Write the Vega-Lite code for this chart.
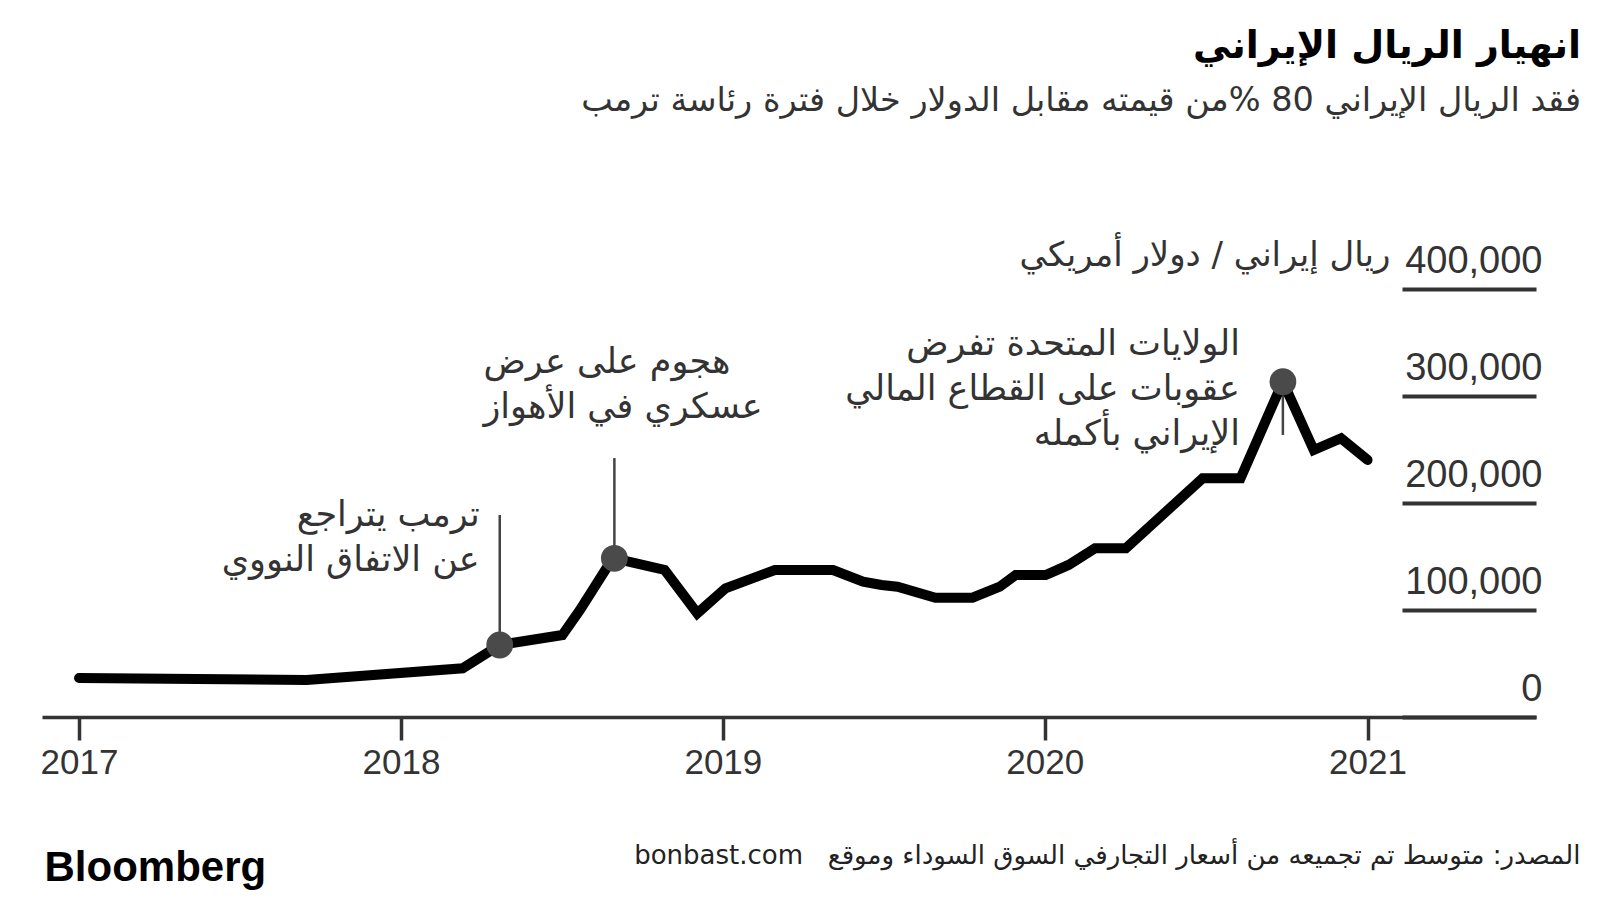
{
  "$schema": "https://vega.github.io/schema/vega-lite/v6.json",
  "width": 1494,
  "height": 428,
  "autosize": {"type": "none"},
  "padding": {"left": 42, "top": 289, "right": 64, "bottom": 183},
  "background": "white",
  "config": {"view": {"stroke": null}, "font": "Liberation Sans"},
  "title": {
    "text": "انهيار الريال الإيراني",
    "subtitle": "فقد الريال الإيراني 80 %من قيمته مقابل الدولار خلال فترة رئاسة ترمب",
    "anchor": "end",
    "frame": "group",
    "orient": "top",
    "dx": 45,
    "offset": 121,
    "font": "DejaVu Sans",
    "fontSize": 38,
    "fontWeight": "bold",
    "color": "#000000",
    "subtitleFont": "DejaVu Sans",
    "subtitleFontSize": 33.5,
    "subtitleColor": "#333333",
    "subtitlePadding": 19
  },
  "datasets": {
    "series": [
      {"date": "2017-01-01", "value": 36500},
      {"date": "2017-09-16", "value": 34500},
      {"date": "2018-03-12", "value": 45500},
      {"date": "2018-04-23", "value": 67300},
      {"date": "2018-07-03", "value": 76600},
      {"date": "2018-07-23", "value": 100000},
      {"date": "2018-08-22", "value": 139000},
      {"date": "2018-08-31", "value": 148300},
      {"date": "2018-10-27", "value": 137400},
      {"date": "2018-12-03", "value": 96900},
      {"date": "2019-01-04", "value": 120300},
      {"date": "2019-03-01", "value": 137400},
      {"date": "2019-05-06", "value": 137400},
      {"date": "2019-06-09", "value": 126500},
      {"date": "2019-06-30", "value": 123400},
      {"date": "2019-07-18", "value": 121800},
      {"date": "2019-08-30", "value": 111500},
      {"date": "2019-10-11", "value": 111500},
      {"date": "2019-11-11", "value": 121800},
      {"date": "2019-11-29", "value": 132700},
      {"date": "2020-01-02", "value": 132700},
      {"date": "2020-01-28", "value": 142100},
      {"date": "2020-02-27", "value": 157700},
      {"date": "2020-04-02", "value": 157700},
      {"date": "2020-06-28", "value": 223100},
      {"date": "2020-08-10", "value": 223100},
      {"date": "2020-09-27", "value": 313400},
      {"date": "2020-11-01", "value": 249500},
      {"date": "2020-12-02", "value": 260500},
      {"date": "2021-01-01", "value": 240200}
    ],
    "notes": [
      {"id": "a1", "date": "2018-04-23", "value": 67300, "leaderEnd": 188800, "label": "ترمب يتراجع\nعن الاتفاق النووي"},
      {"id": "a2", "date": "2018-08-31", "value": 148300, "leaderEnd": 242000, "label": "هجوم على عرض\nعسكري في الأهواز"},
      {"id": "a3", "date": "2020-09-27", "value": 313400, "leaderEnd": 263600, "label": "الولايات المتحدة تفرض\nعقوبات على القطاع المالي\nالإيراني بأكمله"}
    ]
  },
  "encoding": {
    "x": {
      "field": "date",
      "type": "temporal",
      "scale": {
        "type": "utc",
        "domain": [
          {"year": 2016, "month": 11, "date": 20, "utc": true},
          {"year": 2021, "month": 7, "date": 11, "utc": true}
        ]
      },
      "axis": {
        "values": [
          {"year": 2017, "utc": true},
          {"year": 2018, "utc": true},
          {"year": 2019, "utc": true},
          {"year": 2020, "utc": true},
          {"year": 2021, "utc": true}
        ],
        "format": "%Y",
        "grid": false,
        "domainColor": "#333333",
        "domainWidth": 3.5,
        "tickColor": "#333333",
        "tickWidth": 3.5,
        "tickSize": 23,
        "labelFont": "Liberation Sans",
        "labelFontSize": 35,
        "labelColor": "#333333",
        "labelPadding": 5,
        "labelFlush": false,
        "labelOverlap": false,
        "title": "bonbast.com\u00a0\u00a0\u00a0المصدر: متوسط تم تجميعه من أسعار التجارفي السوق السوداء وموقع",
        "titleX": 1538,
        "titleY": 138,
        "titleAlign": "right",
        "titleAnchor": "end",
        "titleBaseline": "middle",
        "titleFont": "DejaVu Sans",
        "titleFontSize": 26,
        "titleFontWeight": "normal",
        "titleColor": "#222222"
      }
    }
  },
  "layer": [
    {
      "data": {"name": "notes"},
      "mark": {"type": "rule", "color": "#444444", "strokeWidth": 2.5},
      "encoding": {
        "y": {"field": "value", "type": "quantitative", "scale": {"domain": [0, 400000], "nice": false}, "axis": null},
        "y2": {"field": "leaderEnd"}
      }
    },
    {
      "data": {"name": "series"},
      "mark": {"type": "line", "color": "#000000", "strokeWidth": 10, "strokeCap": "round", "strokeJoin": "miter"},
      "encoding": {
        "y": {
          "field": "value",
          "type": "quantitative",
          "scale": {"domain": [0, 400000], "nice": false},
          "axis": {
            "orient": "right",
            "values": [0, 100000, 200000, 300000, 400000],
            "format": ",d",
            "domain": false,
            "grid": false,
            "ticks": true,
            "tickSize": -134,
            "tickWidth": 4,
            "tickColor": "#333333",
            "labelAlign": "right",
            "labelBaseline": "alphabetic",
            "labelOffset": -17,
            "labelPadding": 140,
            "labelFont": "Liberation Sans",
            "labelFontSize": 38,
            "labelColor": "#333333",
            "labelOverlap": false,
            "labelBound": false,
            "labelFlush": false,
            "title": "ريال إيراني / دولار أمريكي",
            "titleAngle": 0,
            "titleX": -146,
            "titleY": -34,
            "titleAlign": "right",
            "titleBaseline": "middle",
            "titleFont": "DejaVu Sans",
            "titleFontSize": 34,
            "titleFontWeight": "normal",
            "titleColor": "#333333"
          }
        }
      }
    },
    {
      "data": {"name": "notes"},
      "mark": {"type": "circle", "size": 720, "color": "#4a4a4a", "opacity": 1},
      "encoding": {
        "y": {
          "field": "value",
          "type": "quantitative",
          "scale": {"domain": [0, 400000], "nice": false},
          "axis": {
            "orient": "left",
            "domain": false,
            "ticks": false,
            "labels": false,
            "grid": false,
            "title": "Bloomberg",
            "titleAngle": 0,
            "titleX": 2,
            "titleY": 591,
            "titleAlign": "left",
            "titleBaseline": "alphabetic",
            "titleFont": "Liberation Sans",
            "titleFontSize": 42,
            "titleFontWeight": "bold",
            "titleColor": "#000000"
          }
        }
      }
    },
    {
      "data": {"name": "notes"},
      "transform": [{"filter": "datum.id === 'a1'"}],
      "mark": {"type": "text", "align": "right", "baseline": "middle", "dx": -20, "dy": -130, "font": "DejaVu Sans", "fontSize": 35, "lineHeight": 45, "lineBreak": "\n", "color": "#333333"},
      "encoding": {
        "y": {"field": "value", "type": "quantitative", "scale": {"domain": [0, 400000], "nice": false}, "axis": null},
        "text": {"field": "label"}
      }
    },
    {
      "data": {"name": "notes"},
      "transform": [{"filter": "datum.id === 'a2'"}],
      "mark": {"type": "text", "align": "left", "baseline": "middle", "dx": -131, "dy": -196, "font": "DejaVu Sans", "fontSize": 35, "lineHeight": 45, "lineBreak": "\n", "color": "#333333"},
      "encoding": {
        "y": {"field": "value", "type": "quantitative", "scale": {"domain": [0, 400000], "nice": false}, "axis": null},
        "text": {"field": "label"}
      }
    },
    {
      "data": {"name": "notes"},
      "transform": [{"filter": "datum.id === 'a3'"}],
      "mark": {"type": "text", "align": "right", "baseline": "middle", "dx": -43, "dy": -38, "font": "DejaVu Sans", "fontSize": 35, "lineHeight": 45, "lineBreak": "\n", "color": "#333333"},
      "encoding": {
        "y": {"field": "value", "type": "quantitative", "scale": {"domain": [0, 400000], "nice": false}, "axis": null},
        "text": {"field": "label"}
      }
    }
  ],
  "resolve": {"axis": {"y": "independent"}}
}
